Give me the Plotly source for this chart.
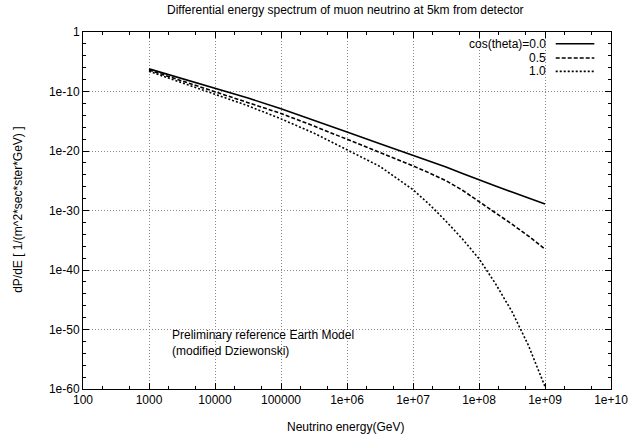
import plotly.graph_objects as go

# Data (log10 of energy in GeV, log10 of dP/dE)
log_energy = [3.0, 3.5, 4.0, 4.5, 5.0, 5.5, 6.0, 6.5, 7.0, 7.25, 7.5, 7.75, 8.0, 8.25, 8.5, 8.75, 9.0]
flux_cos00 = [-6.2, -7.8, -9.4, -11.1, -12.9, -14.8, -16.8, -18.8, -20.7, -21.7, -22.7, -23.8, -24.9, -25.9, -26.9, -27.9, -28.9]
flux_cos05 = [-6.4, -8.2, -10.0, -11.8, -13.7, -15.8, -18.0, -20.3, -22.5, -23.7, -25.0, -26.6, -28.5, -30.3, -32.3, -34.3, -36.5]
flux_cos10 = [-6.6, -8.5, -10.4, -12.4, -14.6, -17.0, -19.8, -22.6, -26.5, -29.0, -31.8, -34.8, -38.1, -42.3, -47.0, -52.7, -59.6]

series_labels = ["cos(theta)=0.0", "0.5", "1.0"]
series_values = [flux_cos00, flux_cos05, flux_cos10]
series_dash = ["solid", "4px,2px", "2px,2px"]

x_tickvals = [1e2, 1e3, 1e4, 1e5, 1e6, 1e7, 1e8, 1e9, 1e10]
x_ticktext = ["100", "1000", "10000", "100000", "1e+06", "1e+07", "1e+08", "1e+09", "1e+10"]
y_tickvals = [1e0, 1e-10, 1e-20, 1e-30, 1e-40, 1e-50, 1e-60]
y_ticktext = ["1", "1e-10", "1e-20", "1e-30", "1e-40", "1e-50", "1e-60"]

FONT = "Liberation Sans, Arial, sans-serif"
TXT = dict(family=FONT, size=12, color="black")

energies = [10 ** v for v in log_energy]

fig = go.Figure()
for vals, dash in zip(series_values, series_dash):
    fig.add_trace(go.Scatter(
        x=energies, y=[10 ** v for v in vals], mode="lines",
        line=dict(color="black", width=1.6, dash=dash),
        showlegend=False, hoverinfo="skip"))

axis_common = dict(
    showline=True, linecolor="black", linewidth=1, mirror="allticks",
    ticks="inside", tickcolor="black", zeroline=False, automargin=False,
    showgrid=True, gridcolor="#888888", griddash="1px,2px", gridwidth=1,
    tickfont=TXT,
)

fig.update_xaxes(type="log", range=[2, 10], tickvals=x_tickvals, ticktext=x_ticktext,
                 ticklen=6,
                 minor=dict(ticks="inside", ticklen=3, tickcolor="black", showgrid=False),
                 **axis_common)
fig.update_yaxes(type="log", range=[-60, 0], tickvals=y_tickvals, ticktext=y_ticktext,
                 ticklen=6,
                 minor=dict(ticks="inside", ticklen=3, tickcolor="black", showgrid=False,
                            tickvals=[10 ** (-k) for k in range(0, 61, 2) if k % 10 != 0]),
                 **axis_common)

# white blank behind key text (gnuplot key hides grid there)
fig.add_shape(type="rect", xref="paper", yref="paper", x0=0.7045, x1=0.8712, y0=0.872, y1=0.997,
              fillcolor="white", line=dict(width=0), layer="between")

# key
key_y = [0.9672, 0.9272, 0.8896]
for lab, dash, yy in zip(series_labels, series_dash, key_y):
    fig.add_annotation(xref="paper", yref="paper", x=0.8807, y=yy, text=lab, showarrow=False,
                       xanchor="right", yanchor="middle", font=TXT)
    fig.add_shape(type="line", xref="paper", yref="paper", x0=0.8953, x1=0.9684, y0=yy, y1=yy,
                  line=dict(color="black", width=1.6, dash=dash))

fig.add_annotation(xref="x", yref="y", x=3.32, y=-52.2,
                   text="Preliminary reference Earth Model<br>(modified Dziewonski)",
                   showarrow=False, xanchor="left", yanchor="middle", align="left", font=TXT)

# titles
fig.add_annotation(xref="paper", yref="paper", x=0.498, y=1.0625, xanchor="center", yanchor="middle",
                   text="Differential energy spectrum of muon neutrino at 5km from detector",
                   showarrow=False, font=TXT)
fig.add_annotation(xref="paper", yref="paper", x=0.498, y=-0.106, xanchor="center", yanchor="middle",
                   text="Neutrino energy(GeV)", showarrow=False, font=TXT)
fig.add_annotation(xref="paper", yref="paper", x=-0.123, y=0.502, xanchor="center", yanchor="middle",
                   text="dP/dE [ 1/(m^2*sec*ster*GeV) ]", textangle=-90, showarrow=False, font=TXT)

fig.update_layout(
    width=643, height=437,
    margin=dict(l=83, r=32, t=32, b=48),
    paper_bgcolor="white", plot_bgcolor="white",
)

# remove the default page margin so the figure sits at the window's top-left corner
fig.write_html("out.html",
               config={"displayModeBar": False, "staticPlot": True},
               post_script="document.body.style.margin='0';document.body.style.overflow='hidden';")
